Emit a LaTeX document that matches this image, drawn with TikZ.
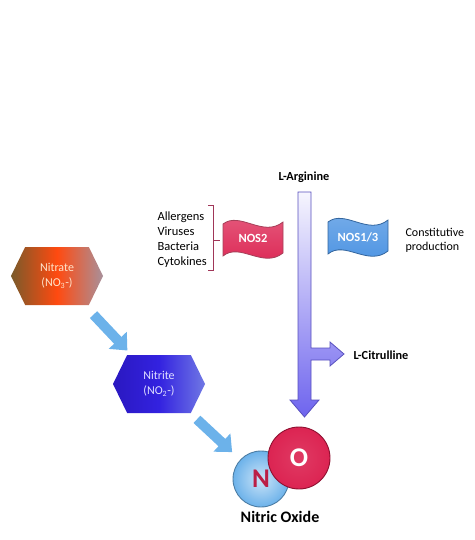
\documentclass[tikz,border=0pt]{standalone}
\usepackage{fontspec}
\setmainfont{Carlito}
\usepackage{xcolor}
\usepackage{tikz}
\usetikzlibrary{positioning,arrows.meta,shapes.symbols,calc}
\definecolor{sky}{HTML}{6CB2EA}
\definecolor{crimson}{HTML}{DC2452}
\definecolor{deepred}{HTML}{8E1030}
\definecolor{flagblue}{HTML}{4A92E2}
\definecolor{violet}{HTML}{6E64EE}
\definecolor{maroon}{HTML}{A03658}
\definecolor{rustleft}{HTML}{7A5A2A}
\definecolor{rustmid}{HTML}{FF4A10}
\definecolor{rustright}{HTML}{A8909A}
\definecolor{indigoleft}{HTML}{2A18C0}
\definecolor{indigomid}{HTML}{3322E0}
\definecolor{indigoright}{HTML}{7078E4}

\begin{document}
\begin{tikzpicture}[x=1pt, y=-1pt,
  hexa/.style={signal, signal to=west and east, signal pointer angle=128, minimum width=92pt, minimum height=58pt, inner sep=0pt, align=center, font=\fontsize{12}{15}\selectfont},
  feed/.style={line width=10pt, draw=sky, -{Triangle[length=14pt,width=24pt]}},
  lbl/.style={font=\fontsize{12.5}{15}\selectfont, align=left},
  bold/.style={font=\fontsize{12.3}{14}\selectfont\bfseries},
  flagtext/.style={font=\fontsize{12.5}{14}\selectfont\bfseries, text=white},
  atom/.style={circle, inner sep=0pt, line width=0.9pt, font=\fontsize{27}{27}\selectfont\bfseries}]
\useasboundingbox (0,0) rectangle (474,540);

% nitrate -> nitrite route
\node[hexa, left color=rustleft, right color=rustright, middle color=rustmid, text=orange!20] (nitrate) at (57,276) {Nitrate\\(NO\textsubscript{3}-)};
\node[hexa, left color=indigoleft, right color=indigoright, middle color=indigomid, text=blue!12] (nitrite) at (159,384) {Nitrite\\(NO\textsubscript{2}-)};

% molecule
\node[atom, minimum size=56pt, inner color=sky!35, outer color=sky, draw=sky!70!black, text=crimson!85!black] (n) at (261,479) {N};
\node[atom, minimum size=62pt, inner color=crimson!90, outer color=crimson, draw=deepred, text=white] (o) at (299,458) {O};
\node[font=\fontsize{16}{18}\selectfont\bfseries] (noname) at (280,517) {Nitric Oxide};

\draw[feed, shorten <=13pt, shorten >=6pt] (nitrate) -- (nitrite);
\draw[feed, shorten <=9pt, shorten >=11pt] (nitrite) -- (n);

% arginine pathway
\node[bold] (arg) at (304,177) {L-Arginine};
\draw[draw=violet!80!black, line width=0.8pt, top color=violet!6, bottom color=violet]
  (298,192) -- (311,192) -- (311,348) -- (330,348) -- (330,342) -- (344,354)
  -- (330,366) -- (330,360) -- (311,360) -- (311,400) -- (319,400)
  -- (304.5,417) -- (290,400) -- (298,400) -- cycle;
\node[bold, anchor=west] (cit) at (350,355) {L-Citrulline};

% enzymes
\draw[draw=deepred!80, line width=0.8pt, top color=crimson!75, bottom color=crimson]
  (223,224) .. controls (240,211) and (263,238) .. (283,222) -- (283,253)
  .. controls (263,269) and (240,242) .. (223,256) -- cycle;
\node[flagtext] (nos2) at (253,238) {NOS2};
\draw[draw=flagblue!70!black, line width=0.8pt, top color=flagblue!75, bottom color=flagblue]
  (328,222) .. controls (345,209) and (368,236) .. (388,220) -- (388,251)
  .. controls (368,267) and (345,240) .. (328,254) -- cycle;
\node[flagtext] (nos13) at (358,237) {NOS1/3};

\node[lbl, anchor=west] (causes) at (154,240) {Allergens\\Viruses\\Bacteria\\Cytokines};
\draw[maroon, line width=0.9pt] (208,205) -- (213,205) -- (213,270) -- (208,270)
  (213,240) -- (220,240);
\node[lbl, anchor=west, font=\fontsize{12}{14}\selectfont] (const) at (402,240) {Constitutive\\production};
\end{tikzpicture}
\end{document}
